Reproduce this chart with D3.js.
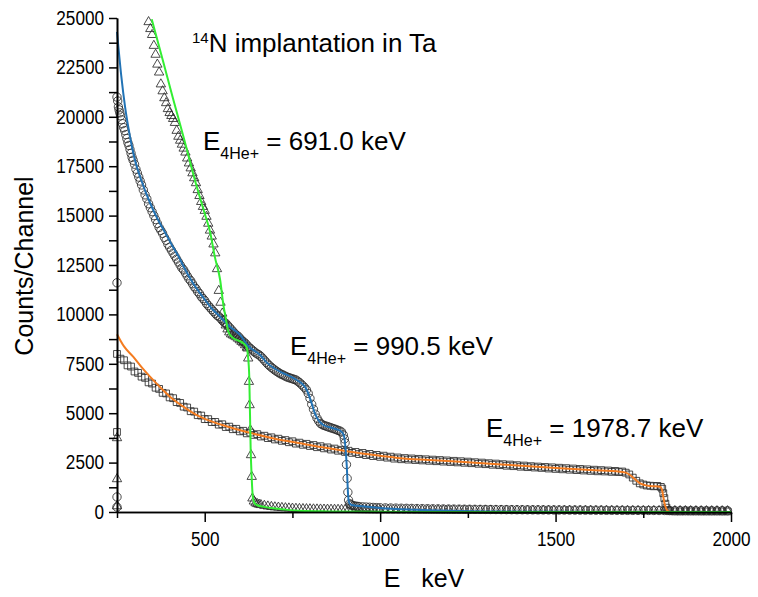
<!DOCTYPE html>
<html>
<head>
<meta charset="utf-8">
<script src="https://cdn.jsdelivr.net/npm/d3@7"></script>
<style>
  html, body { margin: 0; padding: 0; background: #fff; }
  svg text { font-family: "Liberation Sans", Arial, sans-serif; fill: #000; }
</style>
</head>
<body>
<svg id="chart" width="758" height="597"></svg>
<script>
// ---------- tick values ----------
const xMajorTicks = [500, 1000, 1500, 2000];
const xMinorTicks = [250, 750, 1250, 1750];
const yMajorTicks = [0, 2500, 5000, 7500, 10000, 12500, 15000, 17500, 20000, 22500, 25000];
const yMinorTicks = [1250, 3750, 6250, 8750, 11250, 13750, 16250, 18750, 21250, 23750];

// ---------- measured spectra [E keV, counts] ----------
// E(4He+) = 691.0 keV (triangles)
const triangleData = [
  [250,3745],[250,1670],[250,300],
  [340,24800],[345,24450],[350,24150],[355,23600],[360,23150],[365,22650],[370,22250],[375,21650],
  [380,21300],[385,20950],[390,20700],[395,20400],[400,20200],[405,20050],[410,19900],[415,19700],
  [420,19300],[425,19000],[430,18800],[435,18600],[440,18400],[445,18200],[450,17900],[455,17650],
  [460,17400],[465,17150],[470,16900],[475,16650],[480,16300],[485,16000],[490,15700],[495,15450],
  [500,15250],[505,14950],[510,14600],[515,14250],[520,13950],[525,13550],[530,13100],[535,12300],
  [540,11200],[545,10600],[550,10050],[555,9700],[560,9450],[565,9250],[570,9100],[575,9000],
  [580,8950],[585,8900],[590,8850],[595,8780],[600,8700],[605,8620],[610,8550],[615,8450],[620,8330],
  [622,8285],[624,7779],[626,6595],[628,5415],[630,4150],[632,2885],[634,1787],[636,693],
  [640,540],[645,450],[650,410],[655,380],[660,360],[670,320],[680,290],[690,265],[700,245],
  [710,230],[720,215],[730,200],[740,190],[750,180],[760,172],[770,165],[780,158],[790,152],[800,147],
  [810,142],[820,138],[830,135],[840,131],[850,128],[860,125],[870,122],[880,120],[890,118],[900,115],
  [910,113],[920,111],[930,109],[940,108],[950,106],[960,105],[970,103],[980,102],[990,100],[1000,99],
  [1015,98],[1030,96],[1045,94],[1060,93],[1075,91],[1090,90],[1105,88],[1120,87],[1135,86],[1150,85],
  [1165,84],[1180,83],[1195,82],[1210,81],[1225,80],[1240,79],[1255,78],[1270,77],[1285,76],[1300,75],
  [1315,75],[1330,74],[1345,73],[1360,72],[1375,72],[1390,71],[1405,70],[1420,69],[1435,69],[1450,68],
  [1465,67],[1480,67],[1495,66],[1510,65],[1525,65],[1540,64],[1555,63],[1570,63],[1585,62],[1600,62],
  [1615,61],[1630,61],[1645,60],[1660,60],[1675,59],[1690,59],[1705,58],[1720,58],[1735,57],[1750,57],
  [1765,56],[1780,56],[1795,55],[1810,55],[1825,54],[1840,54],[1855,53],[1870,53],[1885,52],[1900,52],
  [1915,51],[1930,51],[1945,50],[1960,50],[1975,49],[1990,49]
];

// E(4He+) = 990.5 keV (circles)
const circleData = [
  [250,11600],[250,760],[250,250],
  [250,21000],[252,20800],[254,20500],[256,20350],[258,20200],[260,20050],[263,19850],[266,19650],
  [269,19450],[272,19300],[275,19100],[278,18900],[281,18700],[284,18550],[287,18350],[290,18150],
  [293,17950],[296,17800],[300,17600],[304,17350],[308,17150],[312,16950],[316,16750],[320,16550],
  [325,16300],[330,16050],[335,15850],[340,15600],[345,15400],[350,15200],[355,15000],[360,14800],
  [365,14600],[370,14400],[375,14250],[380,14100],[385,13900],[390,13750],[395,13550],[400,13400],
  [405,13250],[410,13100],[415,12950],[420,12800],[425,12650],[430,12500],[435,12350],[440,12250],
  [445,12100],[450,11950],[455,11800],[460,11700],[465,11550],[470,11400],[475,11300],[480,11150],
  [485,11050],[490,10900],[495,10800],[500,10700],[505,10550],[510,10450],[515,10350],[520,10250],
  [525,10150],[530,10050],[535,9950],[540,9900],[545,9800],[550,9700],[555,9600],[560,9550],
  [565,9450],[570,9350],[575,9250],[580,9150],[585,9050],[590,8950],[595,8900],[600,8800],
  [605,8700],[610,8620],[615,8550],[620,8450],[625,8350],[630,8280],[635,8200],[640,8130],
  [645,8050],[650,8000],[655,7950],[660,7870],[665,7780],[670,7680],[675,7580],[680,7480],
  [685,7400],[690,7320],[695,7250],[700,7180],[705,7120],[710,7060],[715,7000],[720,6960],
  [725,6920],[730,6870],[735,6830],[740,6800],[745,6770],[750,6740],[755,6710],[760,6680],
  [765,6620],[770,6550],[775,6470],[780,6380],[785,6290],[790,6180],[795,6000],[800,5750],
  [805,5450],[810,5200],[815,4950],[820,4750],[825,4600],[830,4480],[835,4420],[840,4380],
  [845,4350],[850,4320],[855,4290],[860,4260],[865,4230],[870,4200],[875,4170],[880,4130],
  [885,4100],[890,4050],[895,3900],[898,3700],[900,3500],[902,3100],[904,2400],[906,1700],
  [908,1000],[910,600],[913,420],[916,370],[920,340],[925,310],[930,295],[935,285],[940,275],
  [950,260],[960,250],[970,240],[980,230],[990,222],[1000,215],
  [1015,208],[1030,202],[1045,196],[1060,190],[1075,185],[1090,180],[1105,175],[1120,170],[1135,166],
  [1150,162],[1165,158],[1180,154],[1195,150],[1210,147],[1225,144],[1240,141],[1255,138],[1270,135],
  [1285,132],[1300,130],[1315,127],[1330,125],[1345,122],[1360,120],[1375,118],[1390,116],[1405,114],
  [1420,112],[1435,110],[1450,108],[1465,106],[1480,104],[1495,102],[1510,100],[1525,99],[1540,97],
  [1555,96],[1570,94],[1585,93],[1600,91],[1615,90],[1630,89],[1645,87],[1660,86],[1675,85],
  [1690,84],[1705,83],[1720,82],[1735,81],[1750,80],[1765,79],[1780,78],[1795,77],[1810,76],
  [1825,75],[1840,74],[1855,73],[1870,72],[1885,71],[1900,70],[1915,69],[1930,68],[1945,67],
  [1960,66],[1975,65],[1990,64]
];

// E(4He+) = 1978.7 keV (squares)
const squareData = [
  [250,4050],
  [250,8000],[260,7760],[270,7680],[280,7420],[290,7360],[300,7110],[310,7040],[320,6850],[330,6790],
  [340,6560],[350,6500],[360,6290],[370,6230],[380,6030],[390,6000],[400,5800],[410,5760],[420,5560],
  [430,5520],[440,5330],[450,5290],[460,5100],[470,5080],[480,4900],[490,4880],[500,4700],[510,4700],
  [520,4550],[530,4560],[540,4420],[550,4440],[560,4300],[570,4320],[580,4190],[590,4210],[600,4080],
  [610,4110],[620,3980],[630,4020],[640,3900],[650,3940],[660,3820],[670,3860],[680,3740],[690,3780],
  [700,3670],[710,3710],[720,3600],[730,3640],[740,3530],[750,3580],[760,3460],[770,3510],[780,3400],
  [790,3450],[800,3340],[810,3390],[820,3280],[830,3330],[840,3220],[850,3270],[860,3160],[870,3210],
  [880,3100],[890,3150],[900,3040],[910,3100],[920,2990],[930,3040],[940,2930],[950,2990],[960,2880],
  [970,2940],[980,2830],[990,2890],[1000,2790],[1010,2850],[1020,2750],[1030,2800],[1040,2700],
  [1050,2760],[1060,2670],[1070,2730],[1080,2650],[1090,2710],[1100,2630],[1110,2690],[1120,2610],
  [1130,2670],[1140,2590],[1150,2650],[1160,2570],[1170,2630],[1180,2550],[1190,2610],[1200,2530],
  [1210,2590],[1220,2510],[1230,2570],[1240,2490],[1250,2550],[1260,2470],[1270,2520],[1280,2440],
  [1290,2500],[1300,2420],[1310,2470],[1320,2390],[1330,2450],[1340,2370],[1350,2420],[1360,2340],
  [1370,2400],[1380,2320],[1390,2370],[1400,2290],[1410,2350],[1420,2270],[1430,2320],[1440,2250],
  [1450,2300],[1460,2230],[1470,2280],[1480,2200],[1490,2260],[1500,2180],[1510,2240],[1520,2160],
  [1530,2220],[1540,2140],[1550,2200],[1560,2120],[1570,2180],[1580,2100],[1590,2160],[1600,2080],
  [1610,2140],[1620,2060],[1630,2120],[1640,2050],[1650,2100],[1660,2030],[1670,2080],[1680,2020],
  [1690,2050],[1700,1990],[1710,1900],[1720,1740],[1730,1580],[1740,1450],[1750,1390],[1760,1340],
  [1770,1330],[1780,1300],[1790,1320],[1800,1270],[1804,1180],[1807,950],[1810,700],[1813,420],
  [1816,220],[1820,90],[1825,40],
  [1840,30],[1855,28],[1870,32],[1885,29],[1900,31],[1915,28],[1930,30],[1945,29],[1960,31],
  [1975,28],[1990,30]
];

// ---------- fitted curves [E keV, counts] ----------
const fit691 = [
  [349,24936],[380,22900],[410,20900],[440,18950],[472,16802],[500,15100],[515,14200],[529,12900],
  [544,11742],[553,10500],[560,9800],[567,9150],[578,8850],[591,8705],[610,8538],[619,8350],
  [623,7950],[627,6847],[631,3138],[634,1700],[637,774],[641,480],[648,354],[670,260],[695,187],
  [730,120],[771,66],[850,30],[1000,8],[1200,0],[2000,0]
];
const fit990 = [
  [250,24300],[262,22100],[273,20500],[287,19000],[301,17815],[320,16750],[344,15650],[365,14850],
  [387,14150],[410,13400],[425,12950],[439,12450],[466,11600],[496,10850],[520,10300],[544,9884],
  [570,9400],[601,8950],[624,8400],[658,7946],[677,7560],[700,7250],[720,7050],[745,6850],[762,6681],
  [780,6450],[791,6174],[803,5600],[814,4995],[826,4600],[838,4403],[866,4236],[890,4064],[897,3850],
  [901,3300],[905,2293],[909,774],[913,420],[919,354],[962,268],[1000,200],[1100,110],[1200,60],
  [1300,30],[1400,15],[1600,5],[2000,0]
];
const fit1978 = [
  [250,9000],[270,8380],[296,7860],[320,7330],[344,6848],[375,6280],[406,5754],[445,5260],[486,4823],
  [550,4400],[634,3981],[700,3710],[772,3475],[840,3260],[914,3053],[1000,2850],[1057,2716],
  [1140,2630],[1228,2546],[1370,2380],[1513,2210],[1600,2120],[1684,2040],[1700,1990],[1712,1873],
  [1727,1650],[1741,1452],[1755,1360],[1769,1316],[1798,1282],[1803,1150],[1807,774],[1811,400],
  [1815,187],[1820,50],[1830,0],[2000,0]
];

const titleMain = "N implantation in Ta";
const titleSup = "14";
const beamEnergies = ["691.0", "990.5", "1978.7"];

// ---------- drawing ----------
const svg = d3.select("#chart");
const x = d3.scaleLinear().domain([250, 2000]).range([117, 731]);
const y = d3.scaleLinear().domain([0, 25000]).range([512, 18]);

const markerStroke = "#2a2a2a";
const gData = svg.append("g");

function drawMarkers(data, type, size) {
  const sym = d3.symbol().type(type).size(size);
  gData.append("g").selectAll("path").data(data).join("path")
    .attr("d", sym)
    .attr("transform", d => `translate(${x(d[0])},${y(d[1])})`)
    .attr("fill", "none")
    .attr("stroke", markerStroke)
    .attr("stroke-width", 0.85);
}
drawMarkers(squareData, d3.symbolSquare, 46);
drawMarkers(circleData, d3.symbolCircle, 55);
drawMarkers(triangleData, d3.symbolTriangle, 38);

const line = d3.line().x(d => x(d[0])).y(d => y(d[1])).curve(d3.curveMonotoneX);
svg.append("path").datum(fit1978).attr("d", line).attr("fill", "none")
  .attr("stroke", "#f47c20").attr("stroke-width", 2);
svg.append("path").datum(fit990).attr("d", line).attr("fill", "none")
  .attr("stroke", "#2273b5").attr("stroke-width", 2);
svg.append("path").datum(fit691).attr("d", line).attr("fill", "none")
  .attr("stroke", "#33ee33").attr("stroke-width", 2);

// axes
const labelScale = 0.88;
function styleAxis(g) {
  g.selectAll("path.domain").attr("stroke", "#000").attr("stroke-width", 1.6);
  g.selectAll(".tick line").attr("stroke", "#000").attr("stroke-width", 1.5);
  g.selectAll(".tick text").style("font-size", "19.5px").attr("fill", "#000");
}
svg.append("g").attr("transform", "translate(0,512)")
  .call(d3.axisBottom(x).tickValues(xMinorTicks).tickSize(6).tickSizeOuter(0).tickFormat(""))
  .call(styleAxis);
const gx = svg.append("g").attr("transform", "translate(0,512)")
  .call(d3.axisBottom(x).tickValues(xMajorTicks).tickSize(10).tickSizeOuter(0).tickPadding(10).tickFormat(d3.format("d")))
  .call(styleAxis);
gx.selectAll(".tick text").attr("transform", `scale(${labelScale},1)`);
svg.append("g").attr("transform", "translate(117,0)")
  .call(d3.axisLeft(y).tickValues(yMinorTicks).tickSize(8).tickSizeOuter(0).tickFormat(""))
  .call(styleAxis);
const gy = svg.append("g").attr("transform", "translate(117,0)")
  .call(d3.axisLeft(y).tickValues(yMajorTicks).tickSize(8).tickSizeOuter(0).tickPadding(4).tickFormat(d3.format("d")))
  .call(styleAxis);
gy.selectAll(".tick text").attr("x", -13 / labelScale).attr("transform", `scale(${labelScale},1)`);

// axis titles
svg.append("text").attr("x", 424).attr("y", 587).attr("text-anchor", "middle")
  .style("font-size", "25px").style("white-space", "pre").text("E   keV");
svg.append("text").attr("transform", "translate(33,266) rotate(-90)").attr("text-anchor", "middle")
  .style("font-size", "25px").text("Counts/Channel");

// title
const t = svg.append("text").attr("x", 192).attr("y", 52).style("font-size", "26px");
t.append("tspan").style("font-size", "15px").attr("dy", "-9").text(titleSup);
t.append("tspan").attr("dy", "9").text(titleMain);

// energy annotations
const annPos = [[203, 150], [290, 355], [486, 437]];
beamEnergies.forEach((e, i) => {
  const tx = svg.append("text").attr("x", annPos[i][0]).attr("y", annPos[i][1]).style("font-size", "26px");
  tx.append("tspan").text("E");
  tx.append("tspan").style("font-size", "16px").attr("dy", "9").text("4He+");
  tx.append("tspan").attr("dy", "-9").text(" = " + e + " keV");
});
</script>
</body>
</html>
